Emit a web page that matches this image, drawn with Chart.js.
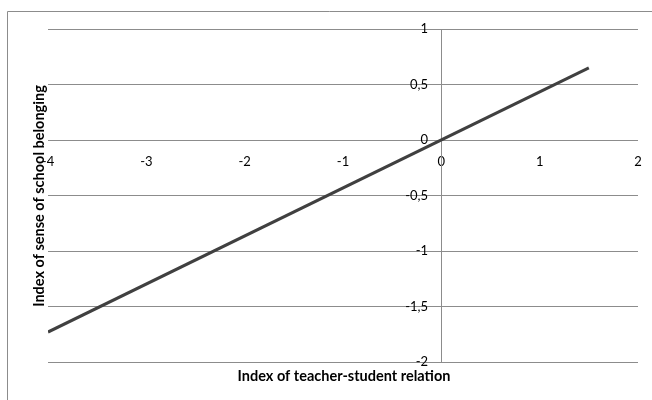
<!DOCTYPE html>
<html>
<head>
<meta charset="utf-8">
<script src="https://cdn.jsdelivr.net/npm/chart.js@4/dist/chart.umd.min.js"></script>
<style>
  html, body { margin: 0; padding: 0; background: #fff; }
  #wrap { width: 652px; height: 400px; }
</style>
</head>
<body>
<div id="wrap"><canvas id="myChart" width="652" height="400"></canvas></div>
<script>
const xValues = [-4, 1.5];
const yValues = [-1.73, 0.65];
const xTicks = [-4, -3, -2, -1, 0, 1, 2];
const yTicks = [1, 0.5, 0, -0.5, -1, -1.5, -2];
const xTitle = 'Index of teacher-student relation';
const yTitle = 'Index of sense of school belonging';

const fontFamily = 'Lato, "Open Sans", sans-serif';

const frame = {
  id: 'frame',
  beforeDraw(chart) {
    const c = chart.ctx;
    c.save();
    c.strokeStyle = '#8c8c8c';
    c.lineWidth = 1;
    c.beginPath();
    c.moveTo(7.5, 400);
    c.lineTo(7.5, 11.5);
    c.lineTo(652, 11.5);
    c.stroke();
    c.restore();
  },
  afterDraw(chart) {
    const c = chart.ctx;
    c.save();
    c.fillStyle = '#000';
    c.font = 'bold 14.5px ' + fontFamily;
    c.textAlign = 'center';
    c.textBaseline = 'middle';
    c.fillText(xTitle, 344, 376);
    c.translate(39, 196);
    c.rotate(-Math.PI / 2);
    c.fillText(yTitle, 0, 0);
    c.restore();
  }
};

const ctx = document.getElementById('myChart').getContext('2d');
const myChart = new Chart(ctx, {
  type: 'scatter',
  data: {
    datasets: [{
      data: xValues.map((x, i) => ({ x: x, y: yValues[i] })),
      showLine: true,
      borderColor: '#404040',
      borderWidth: 3,
      pointRadius: 0,
      fill: false
    }]
  },
  options: {
    responsive: false,
    animation: false,
    layout: { padding: { left: 48, right: 14, top: 29, bottom: 38 } },
    plugins: {
      legend: { display: false },
      tooltip: { enabled: false }
    },
    scales: {
      x: {
        type: 'linear',
        position: { y: 0 },
        min: -4,
        max: 2,
        afterBuildTicks: (axis) => { axis.ticks = xTicks.map(v => ({ value: v })); },
        afterFit: (axis) => {
          axis.height = 0;
          axis.paddingLeft = 0;
          axis.paddingRight = 0;
        },
        grid: { display: false, drawTicks: false },
        border: { display: false },
        ticks: {
          color: '#000',
          font: { family: fontFamily, size: 13 },
          padding: 14,
          maxRotation: 0,
          callback: (v) => String(v)
        }
      },
      y: {
        type: 'linear',
        position: { x: 0 },
        min: -2,
        max: 1,
        afterBuildTicks: (axis) => { axis.ticks = yTicks.map(v => ({ value: v })); },
        afterFit: (axis) => { axis.width = 0; },
        grid: { color: '#8c8c8c', lineWidth: 1, drawTicks: false },
        border: { display: true, color: '#8c8c8c', width: 1 },
        ticks: {
          color: '#000',
          font: { family: fontFamily, size: 13 },
          callback: (v) => String(v).replace('.', ',') + '    '
        }
      }
    }
  },
  plugins: [frame]
});
</script>
</body>
</html>
